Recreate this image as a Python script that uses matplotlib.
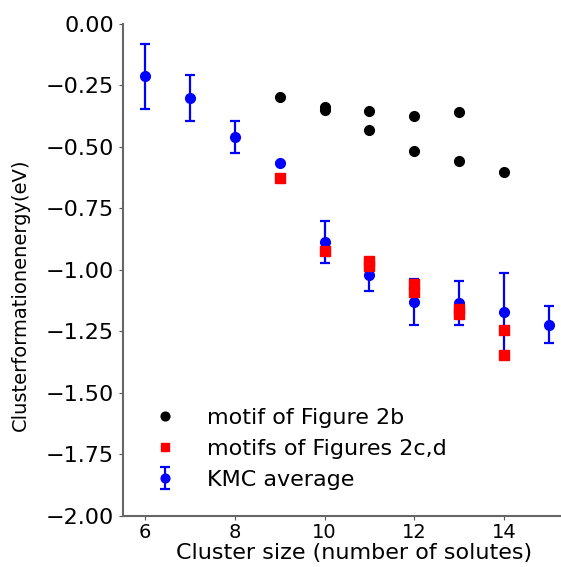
import numpy as np
import matplotlib
matplotlib.use("Agg")
import matplotlib.pyplot as plt

# motif of Figure 2b
black_x = [9, 10, 10, 11, 11, 12, 12, 13, 13, 14]
black_y = [-0.297, -0.339, -0.350, -0.354, -0.430, -0.373, -0.515, -0.357, -0.559, -0.603]

# motifs of Figures 2c,d
red_x = [9, 10, 11, 11, 12, 12, 13, 13, 14, 14]
red_y = [-0.626, -0.922, -0.965, -0.985, -1.059, -1.088, -1.158, -1.178, -1.246, -1.345]

# KMC average
kmc_x = [6, 7, 8, 9, 10, 11, 12, 13, 14, 15]
kmc_y = [-0.214, -0.301, -0.459, -0.567, -0.886, -1.022, -1.129, -1.135, -1.173, -1.223]
kmc_err_lo = [0.133, 0.095, 0.065, 0.0, 0.084, 0.065, 0.094, 0.090, 0.170, 0.075]
kmc_err_hi = [0.133, 0.095, 0.065, 0.0, 0.084, 0.065, 0.094, 0.090, 0.160, 0.075]

yticks = [0.0, -0.25, -0.5, -0.75, -1.0, -1.25, -1.5, -1.75, -2.0]
xticks = [6, 8, 10, 12, 14]

fig = plt.figure(figsize=(5.61, 5.67), dpi=100)
ax = fig.add_axes([0.219, 0.09, 0.779, 0.868])

ax.plot(black_x, black_y, "o", color="black", ms=7, label="motif of Figure 2b", zorder=2)
ax.plot(red_x, red_y, "s", color="red", ms=6.5, label="motifs of Figures 2c,d", zorder=4)
ax.errorbar(kmc_x, kmc_y, yerr=[kmc_err_lo, kmc_err_hi], fmt="o", color="blue", ms=7,
            elinewidth=1.6, capsize=3.5, capthick=1.6, label="KMC average", zorder=3)

ax.set_xlim(5.5, 15.25)
ax.set_ylim(-2.0, 0.0)
ax.set_xticks(xticks)
ax.set_yticks(yticks)
ax.set_yticklabels(["%.2f" % v if v == 0 else "\u2212%.2f" % abs(v) for v in yticks])
ax.tick_params(axis="x", labelsize=14, color="#555555", length=3, pad=2)
ax.tick_params(axis="y", labelsize=16, color="#555555", length=3)
ax.spines["top"].set_visible(False)
ax.spines["right"].set_visible(False)
ax.spines["left"].set_color("#666666")
ax.spines["bottom"].set_color("#666666")
ax.spines["left"].set_linewidth(1.5)
ax.spines["bottom"].set_linewidth(1.5)

ax.set_xlabel("Cluster size (number of solutes)", fontsize=16)
ax.xaxis.set_label_coords(0.53, -0.055)
ax.set_ylabel("Clusterformationenergy(eV)", fontsize=14)
ax.yaxis.set_label_coords(-0.212, 0.45)

ax.legend(loc="lower left", bbox_to_anchor=(0.0, 0.012), frameon=False, fontsize=16,
          handletextpad=0.9, labelspacing=0.5, markerscale=0.9)

fig.savefig("out.png", dpi=100)
